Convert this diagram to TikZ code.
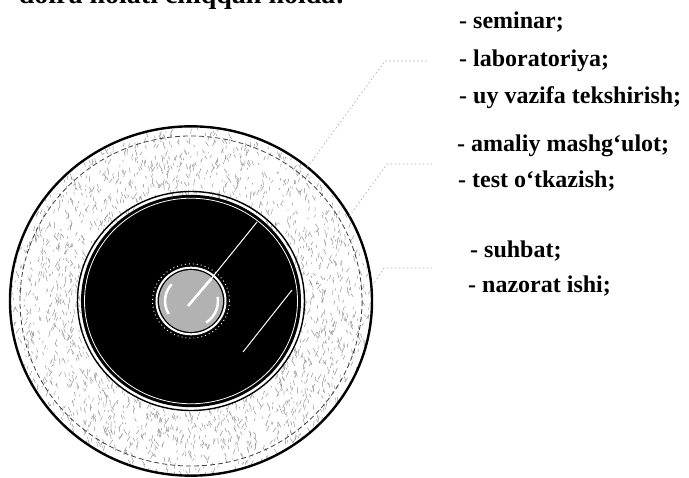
\documentclass[tikz,border=0pt]{standalone}
\usepackage{fontspec}
\setmainfont{Liberation Serif}
\tikzset{
  lab/.style={anchor=base west, inner sep=0pt, font=\fontsize{24}{28}\selectfont\bfseries},
  leader/.style={gray!70, line width=0.6pt, dash pattern=on 1.5pt off 2.5pt},
  speck/.style={gray!85, line width=0.5pt},
  ray/.style={white, line width=1pt},
}
\begin{document}
\begin{tikzpicture}[x=1pt, y=-1pt]
  \useasboundingbox (0,0) rectangle (689,478);
  \node[anchor=base east, inner sep=0pt, font=\fontsize{28}{32}\selectfont\bfseries] (head) at (345,3.5) {doira holati chiqqan holda:};

  \begin{scope}[shift={(191,301)}, yscale=0.965]
    \coordinate (C) at (0,0);
    \begin{scope}
      \clip (C) circle (180);
      \pgfmathsetseed{11}
      \foreach \i in {1,...,1900} {
        \pgfmathsetmacro{\ra}{rnd*360}
        \pgfmathsetmacro{\rr}{112+rnd*68}
        \pgfmathsetmacro{\rt}{55+rnd*70}
        \pgfmathsetmacro{\rl}{1.5+rnd*5}
        \draw[speck] (\ra:\rr) -- ++(\rt:\rl);
      }
    \end{scope}
    \draw[black!75, line width=0.8pt, dash pattern=on 5pt off 3pt] (C) circle (171);
    \draw[line width=2.4pt] (C) circle (181);
    \draw[line width=1.4pt] (C) circle (113.5);
    \fill (C) circle (110);
    \draw[white, line width=0.8pt] (C) circle (106.5);

    \draw[white, line width=0.9pt, dash pattern=on 1pt off 3pt] (C) circle (38.5);
    \draw[white, line width=2pt] (C) circle (34.5);
    \fill[gray!60] (C) circle (32);
    \draw[white, line width=2.5pt] (149:26) arc[start angle=149, end angle=222, radius=26];
    \draw[white, line width=2.5pt] (-9:27) arc[start angle=-9, end angle=56, radius=27];

    \coordinate (e1) at (-50:181);
    \coordinate (e2) at (-29:181);
    \coordinate (e3) at (-5:182);
  \end{scope}

  \draw[white, line width=2.6pt] (188,306) -- (211,279);
  \draw[ray] (211,279) -- (257,222);
  \draw[ray] (243,352) -- (292,290);

  \node[lab] (sem) at (459,29) {- seminar;};
  \node[lab] (labor) at (459,67) {- laboratoriya;};
  \node[lab] (uy) at (459,104) {- uy vazifa tekshirish;};
  \node[lab] (amal) at (457,152) {- amaliy mashg‘ulot;};
  \node[lab] (test) at (458,188) {- test o‘tkazish;};
  \node[lab] (suh) at (470,258) {- suhbat;};
  \node[lab] (naz) at (468,293) {- nazorat ishi;};

  \coordinate (b1) at (385,61);
  \coordinate (h1) at (428,61);
  \coordinate (b2) at (387,164);
  \coordinate (h2) at (433,164);
  \coordinate (b3) at (384,268);
  \coordinate (h3) at (432,268);

  \draw[leader] (e1) -- (b1) -- (h1);
  \draw[leader] (e2) -- (b2) -- (h2);
  \draw[leader] (e3) -- (b3) -- (h3);
\end{tikzpicture}
\end{document}
